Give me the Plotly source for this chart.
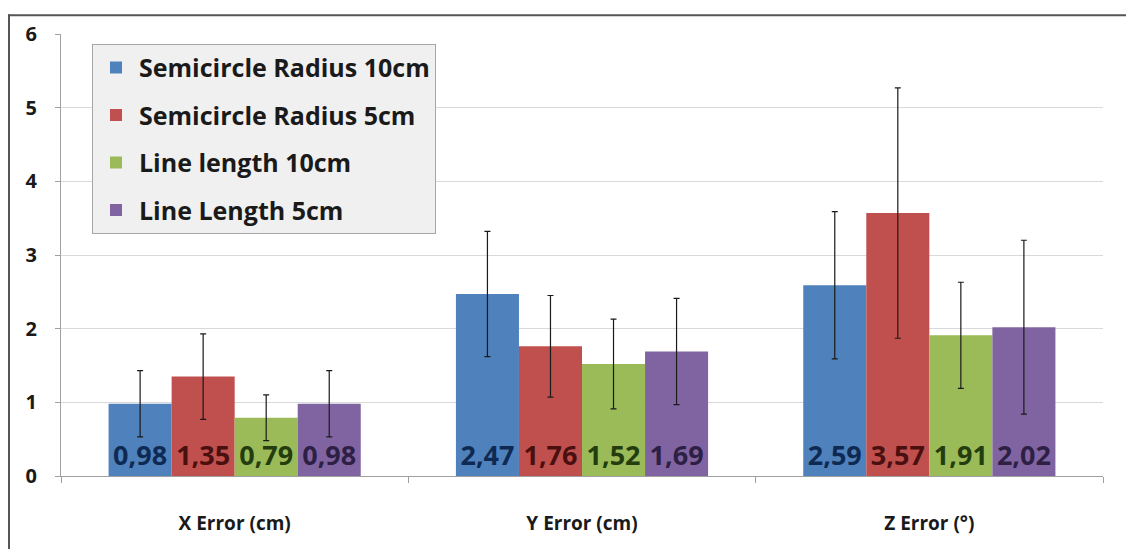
import plotly.graph_objects as go

# data
categories = ["X Error (cm)", "Y Error (cm)", "Z Error (°)"]
series_names = ["Semicircle Radius 10cm", "Semicircle Radius 5cm",
                "Line length 10cm", "Line Length 5cm"]
semi_10 = [0.98, 2.47, 2.59]
semi_5 = [1.35, 1.76, 3.57]
line_10 = [0.79, 1.52, 1.91]
line_5 = [0.98, 1.69, 2.02]
semi_10_err = [0.45, 0.85, 1.00]
semi_5_err = [0.58, 0.69, 1.70]
line_10_err = [0.31, 0.61, 0.72]
line_5_err = [0.45, 0.72, 1.18]

values = [semi_10, semi_5, line_10, line_5]
errors = [semi_10_err, semi_5_err, line_10_err, line_5_err]
colors = ["#4F81BD", "#C0504D", "#9BBB59", "#8064A2"]
text_colors = ["#0f2a52", "#4a1010", "#233d0e", "#2e1f45"]

FONT = "Open Sans"

fig = go.Figure()
for i, name in enumerate(series_names):
    fig.add_bar(
        x=categories, y=values[i], name=name, legendgroup=name,
        marker=dict(color=colors[i], line=dict(width=0)),
        error_y=dict(type="data", array=errors[i], color="#1a1a1a", thickness=1.2, width=3),
        text=[f"{v:.2f}".replace(".", ",") for v in values[i]],
        textposition="inside", insidetextanchor="start",
        textfont=dict(family=FONT, size=27, color=text_colors[i], weight="bold"),
        textangle=0,
    )

# page body adds 8px, so the figure is 8px smaller than the window
W, H = 1126, 541
L, R, T, B = 53, 31, 20, 73
pw, ph = W - L - R, H - T - B

def px_x(p):
    return (p - L) / pw

def px_y(p):
    return (H - B - p) / ph

fig.update_layout(
    width=W, height=H,
    margin=dict(l=L, r=R, t=T, b=B),
    paper_bgcolor="white", plot_bgcolor="white",
    barmode="group", bargap=0.274, bargroupgap=0,
    uniformtext=dict(minsize=27, mode="show"),
    font=dict(family=FONT, color="#1a1a1a"),
    legend=dict(
        x=px_x(84), y=px_y(30), xanchor="left", yanchor="top",
        bgcolor="#f0f0f0", bordercolor="#a6a6a6", borderwidth=1,
        font=dict(family=FONT, size=25, color="#1a1a1a", weight="bold"),
        tracegroupgap=12, traceorder="grouped", itemwidth=36,
    ),
    shapes=[
        dict(type="line", xref="paper", yref="paper", x0=px_x(0), x1=px_x(W + 5),
             y0=px_y(1), y1=px_y(1), line=dict(color="#555555", width=2)),
        dict(type="line", xref="paper", yref="paper", x0=px_x(1), x1=px_x(1),
             y0=px_y(0), y1=px_y(H + 5), line=dict(color="#555555", width=2)),
    ],
)
fig.update_yaxes(
    range=[0, 6], dtick=1, showgrid=True, gridcolor="#d9d9d9", gridwidth=1,
    showline=True, linecolor="#a0a0a0", ticks="outside", ticklen=5, tickcolor="#a0a0a0",
    tickfont=dict(family=FONT, size=20, color="#1a1a1a", weight="bold"),
    ticklabelstandoff=14, zeroline=False,
)
fig.update_xaxes(
    showline=True, linecolor="#a0a0a0", ticks="outside", tickson="boundaries",
    ticklen=6, tickcolor="#a0a0a0",
    tickfont=dict(family=FONT, size=19, color="#1a1a1a", weight="bold"),
    ticklabelstandoff=30,
)

fig.write_html("out.html")
